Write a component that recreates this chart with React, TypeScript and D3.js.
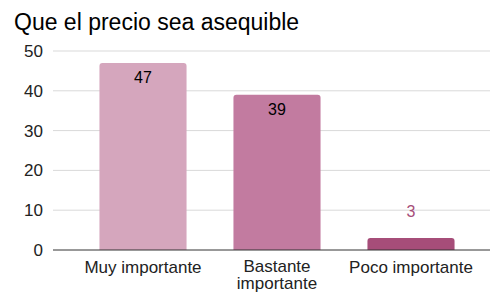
import * as d3 from "d3";

const width = 490;
const height = 292;
const marginTop = 51;
const marginBottom = 42;

const categories = ["Muy importante", "Bastante importante", "Poco importante"];
const categoryLines = [["Muy importante"], ["Bastante", "importante"], ["Poco importante"]];
const values = [47, 39, 3];
const colors = ["#d5a6bd", "#c27ba0", "#a64d79"];
const yTicks = [0, 10, 20, 30, 40, 50];

const font = "Arial, 'Liberation Sans', sans-serif";

const App = () => {
  const x = d3.scaleBand<string>().domain(categories).range([76, 478]).paddingInner(0.35).paddingOuter(0.175);
  const y = d3.scaleLinear().domain([0, 50]).range([height - marginBottom, marginTop]);

  return (
    <svg width={width} height={height} style={{ position: "absolute", left: 0, top: 0 }}>
      <rect width={width} height={height} fill="#fff" />
      <text x={14} y={30} fontFamily={font} fontSize={23} fill="#000">
        Que el precio sea asequible
      </text>
      {yTicks.map((t) => (
        <g key={t}>
          {t > 0 && <line x1={53} x2={490} y1={y(t)} y2={y(t)} stroke="#d9d9d9" strokeWidth={1} />}
          <text x={43} y={y(t) + 6} textAnchor="end" fontFamily={font} fontSize={17} fill="#222">
            {t}
          </text>
        </g>
      ))}
      {categories.map((c, i) => {
        const x0 = x(c)!;
        const w = x.bandwidth();
        const top = y(values[i]);
        const h = y(0) - top;
        const r = Math.min(3, h / 2);
        const path = `M${x0},${y(0)}V${top + r}Q${x0},${top} ${x0 + r},${top}H${x0 + w - r}Q${x0 + w},${top} ${x0 + w},${top + r}V${y(0)}Z`;
        const inside = h > 30;
        const lines = categoryLines[i];
        return (
          <g key={c}>
            <path d={path} fill={colors[i]} />
            <text
              x={x0 + w / 2}
              y={inside ? top + 20 : top - 21}
              textAnchor="middle"
              fontFamily={font}
              fontSize={16}
              fill={inside ? "#000" : colors[i]}
            >
              {values[i]}
            </text>
            <text x={x0 + w / 2} y={lines.length > 1 ? 272 : 273} textAnchor="middle" fontFamily={font} fontSize={17} fill="#222">
              {lines.map((ln, j) => (
                <tspan key={j} x={x0 + w / 2} dy={j === 0 ? 0 : 17}>
                  {ln}
                </tspan>
              ))}
            </text>
          </g>
        );
      })}
      <line x1={53} x2={490} y1={y(0)} y2={y(0)} stroke="#333" strokeWidth={1} />
    </svg>
  );
};

export default App;
